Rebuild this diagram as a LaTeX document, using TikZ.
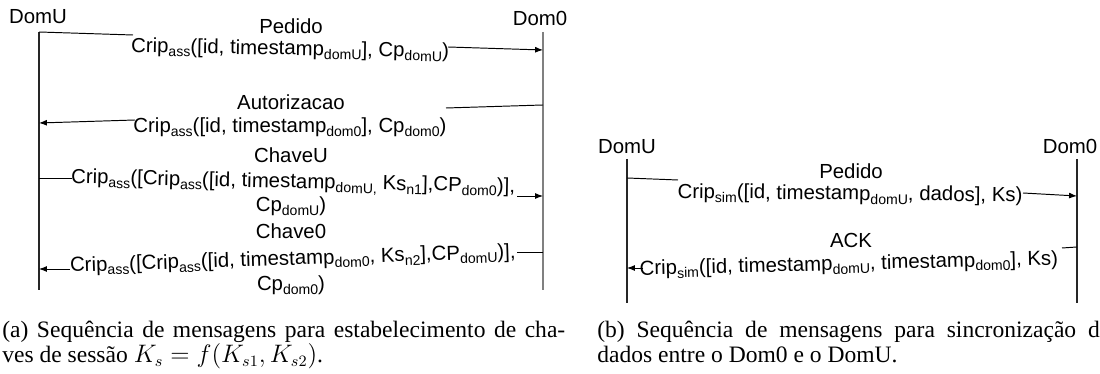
\documentclass[tikz,border=0pt]{standalone}
\usepackage{fontspec}
\setmainfont{Liberation Sans}
\newfontfamily\capfont{Liberation Serif}
\usetikzlibrary{arrows.meta}

\newcommand{\ix}[1]{\raisebox{-2.2pt}{\fontsize{8}{8}\selectfont #1}}

\tikzset{
  msg/.style={inner sep=0pt,anchor=base,font=\fontsize{11.6}{13}\selectfont},
  legenda/.style={inner sep=0pt,anchor=base west,font=\capfont\fontsize{13.4}{15}\selectfont},
  life/.style={line width=0.6pt,black!85},
  seg/.style={line width=0.55pt},
  arr/.style={seg,-{Latex[length=4.5pt,width=3.4pt]}},
}

\begin{document}
\begin{tikzpicture}[x=0.02cm,y=-0.02cm]
\useasboundingbox (0,0) rectangle (1100,374);

% (a) chaves de sessao
\node[msg] (uA) at (38,24) {DomU};
\node[msg] (oA) at (540,26) {Dom0};
\coordinate (uAt) at (39,32);
\coordinate (uAb) at (39,290);
\coordinate (oAt) at (543,32);
\coordinate (oAb) at (543,290);
\draw[life] (uAt) -- (uAb);
\draw[life,black!50] (oAt) -- (oAb);

\node[msg] (ped) at (291,34) {Pedido};
\node[msg,rotate=-1] (r1) at (290,55) {Crip\ix{ass}([id, timestamp\ix{domU}], Cp\ix{domU})};
\node[msg] (aut) at (291,110) {Autorizacao};
\node[msg] (r2) at (290,133) {Crip\ix{ass}([id, timestamp\ix{dom0}], Cp\ix{dom0})};
\node[msg] (chu) at (291,163) {ChaveU};
\node[msg,rotate=-1.2] (r3) at (293,188) {Crip\ix{ass}([Crip\ix{ass}([id, timestamp\ix{domU,} Ks\ix{n1}],CP\ix{dom0})],};
\node[msg] (r3b) at (291,212) {Cp\ix{domU})};
\node[msg] (ch0) at (291,239) {Chave0};
\node[msg,rotate=1.8] (r4) at (293,265) {Crip\ix{ass}([Crip\ix{ass}([id, timestamp\ix{dom0}, Ks\ix{n2}],CP\ix{domU})],};
\node[msg] (r4b) at (291,291) {Cp\ix{dom0})};

\coordinate (a1) at (39,32);   \coordinate (b1) at (133,35);
\coordinate (c1) at (448,47);  \coordinate (d1) at (543,50);
\coordinate (a2) at (543,105); \coordinate (b2) at (446,108);
\coordinate (c2) at (135,120); \coordinate (d2) at (39,123);
\coordinate (a3) at (39,178);  \coordinate (b3) at (72,178);
\coordinate (c3) at (517,196); \coordinate (d3) at (543,196);
\coordinate (a4) at (543,252); \coordinate (b4) at (517,252);
\coordinate (c4) at (70,269);  \coordinate (d4) at (39,269);
\foreach \m in {1,2,3,4}{
  \draw[seg] (a\m) -- (b\m);
  \draw[arr] (c\m) -- (d\m);
}

% (b) sincronizacao de dados
\node[msg] (uB) at (627,154) {DomU};
\node[msg] (oB) at (1070,154) {Dom0};
\coordinate (uBt) at (627,159);
\coordinate (uBb) at (627,303);
\coordinate (oBt) at (1077,159);
\coordinate (oBb) at (1077,303);
\draw[life] (uBt) -- (uBb);
\draw[life] (oBt) -- (oBb);

\node[msg] (pdb) at (851,179) {Pedido};
\node[msg,rotate=-0.6] (s1) at (850,200) {Crip\ix{sim}([id, timestamp\ix{domU}, dados], Ks)};
\node[msg] (ack) at (851,248) {ACK};
\node[msg,rotate=1.4] (s2) at (849,270) {Crip\ix{sim}([id, timestamp\ix{domU}, timestamp\ix{dom0}], Ks)};

\coordinate (e1) at (627,178);  \coordinate (f1) at (678,180);
\coordinate (g1) at (1023,193); \coordinate (h1) at (1077,196);
\coordinate (e2) at (1077,247); \coordinate (f2) at (1062,248);
\coordinate (g2) at (643,268);  \coordinate (h2) at (627,268);
\foreach \m in {1,2}{
  \draw[seg] (e\m) -- (f\m);
  \draw[arr] (g\m) -- (h\m);
}

% legendas
\node[legenda] (ca1) at (2,338) {\makebox[11.26cm][s]{(a) Sequência de mensagens para estabelecimento de cha-}};
\node[legenda] (ca2) at (2,363) {ves de sessão $K_s = f(K_{s1}, K_{s2})$.};
\node[legenda] (cb1) at (597,338) {\makebox[10.26cm][s]{(b) Sequência de mensagens para sincronização de}};
\node[legenda] (cb2) at (597,363) {dados entre o Dom0 e o DomU.};
\end{tikzpicture}
\end{document}
